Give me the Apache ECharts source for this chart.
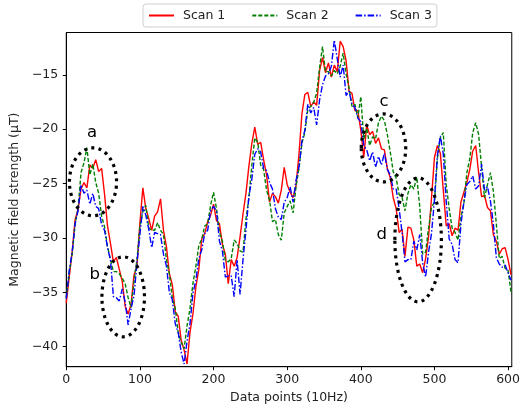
<!DOCTYPE html>
<html>
<head>
<meta charset="utf-8">
<script src="https://cdn.jsdelivr.net/npm/echarts@6.0.0/dist/echarts.min.js"></script>
<style>
  html, body { margin: 0; padding: 0; background: #fff; }
  #chart { width: 523px; height: 410px; }
</style>
</head>
<body>
<div id="chart"></div>
<script>
// three scans, one sample every 4 data points
const seriesNames = ["Scan 1", "Scan 2", "Scan 3"];
const sampleStep = 4;

const scan1 = [
  -36.0, -33.6, -31.3, -28.3, -27.4, -25.5, -24.9, -25.4, -23.3, -23.6,
  -22.8, -23.9, -23.6, -26.0, -28.9, -30.5, -32.2, -31.8, -32.9, -34.0,
  -36.3, -37.0, -36.1, -33.4, -32.6, -28.6, -25.4, -27.3, -28.2, -29.3,
  -28.0, -27.6, -26.4, -29.3, -30.8, -33.3, -34.3, -36.8, -37.2, -39.4,
  -40.3, -41.6, -38.7, -37.0, -34.5, -32.9, -30.1, -29.6, -28.5, -27.9,
  -26.9, -28.4, -28.7, -30.6, -31.5, -34.2, -32.0, -32.6, -31.8, -29.9,
  -27.8, -25.9, -23.4, -21.3, -19.8, -21.4, -21.2, -22.8, -24.2, -26.7,
  -25.9, -26.2, -26.8, -25.6, -23.5, -25.1, -25.8, -26.3, -25.2, -22.3,
  -18.6, -16.8, -16.6, -17.9, -17.5, -17.8, -14.6, -13.4, -14.8, -13.9,
  -15.2, -14.1, -14.7, -11.9, -12.4, -13.7, -16.5, -16.7, -18.3, -18.3,
  -20.1, -22.6, -19.6, -20.5, -20.2, -21.3, -20.8, -21.8, -21.9, -23.6,
  -24.5, -26.3, -27.3, -29.5, -29.2, -31.7, -29.0, -29.1, -30.2, -32.6,
  -32.4, -33.2, -31.9, -29.9, -26.3, -22.6, -21.5, -22.2, -25.6, -28.9,
  -28.7, -29.8, -29.1, -29.3, -26.7, -25.8, -24.9, -23.7, -22.0, -21.5,
  -24.0, -26.2, -26.1, -27.2, -27.5, -29.7, -30.3, -31.5, -31.0, -30.9,
  -32.0, -33.4
];

const scan2 = [
  -35.5, -33.2, -31.5, -28.7, -27.3, -24.0, -23.1, -21.7, -24.2, -23.2,
  -24.9, -25.9, -28.0, -29.0, -30.8, -32.0, -33.1, -33.1, -33.3, -33.7,
  -34.2, -35.5, -36.4, -34.0, -32.0, -28.9, -27.6, -27.0, -29.1, -29.3,
  -29.3, -28.6, -29.3, -29.7, -32.0, -33.3, -35.5, -36.5, -38.7, -39.6,
  -40.2, -38.1, -36.5, -34.2, -32.6, -30.7, -30.1, -28.9, -28.7, -27.0,
  -25.8, -27.3, -29.5, -30.3, -32.1, -32.2, -31.9, -30.2, -30.5, -31.2,
  -31.3, -28.3, -26.3, -23.3, -20.8, -21.2, -23.3, -23.7, -25.6, -26.5,
  -28.5, -28.3, -29.7, -30.2, -27.7, -27.1, -26.6, -27.7, -25.3, -23.6,
  -21.3, -20.3, -18.2, -17.9, -17.5, -16.7, -14.3, -12.4, -14.7, -14.7,
  -15.1, -14.6, -14.9, -14.2, -13.0, -14.9, -16.2, -17.9, -17.7, -18.9,
  -17.0, -20.9, -19.9, -21.5, -20.7, -20.9, -19.4, -18.8, -19.2, -20.5,
  -22.1, -23.9, -24.5, -26.0, -26.3, -27.5, -25.9, -25.1, -25.5, -24.4,
  -27.1, -31.5, -31.3, -29.1, -27.2, -26.7, -22.7, -20.8, -20.3, -25.1,
  -27.3, -29.1, -29.5, -30.2, -28.1, -26.8, -24.0, -22.7, -20.3, -19.4,
  -20.5, -23.5, -26.3, -25.1, -24.0, -25.7, -28.7, -31.9, -31.7, -32.8,
  -33.0, -35.0
];

const scan3 = [
  -35.6, -33.0, -31.3, -28.7, -27.5, -25.1, -25.9, -25.6, -26.9, -25.9,
  -27.1, -27.3, -28.8, -29.3, -30.9, -32.0, -35.4, -35.5, -35.8, -34.7,
  -35.9, -38.0, -36.5, -35.3, -32.3, -29.7, -27.1, -27.9, -29.2, -30.9,
  -29.5, -29.6, -29.7, -31.5, -32.6, -35.0, -35.7, -37.9, -38.7, -40.5,
  -41.6, -39.5, -37.9, -35.1, -33.9, -31.9, -31.1, -29.6, -29.3, -27.5,
  -27.1, -27.5, -30.3, -31.2, -33.6, -33.5, -33.5, -35.4, -32.0, -35.2,
  -32.0, -29.3, -26.2, -24.6, -22.3, -21.8, -22.1, -23.6, -23.8, -24.9,
  -25.5, -27.3, -28.1, -28.3, -26.7, -26.3, -25.3, -26.7, -24.7, -23.5,
  -21.1, -20.1, -17.7, -18.5, -18.0, -19.6, -17.3, -15.9, -15.1, -14.9,
  -14.2, -11.8, -13.5, -15.2, -14.1, -16.9, -16.5, -17.7, -18.0, -19.0,
  -19.3, -21.5, -21.9, -22.9, -22.1, -23.5, -22.5, -23.3, -22.2, -23.7,
  -24.2, -25.5, -25.5, -27.3, -29.5, -32.2, -32.0, -32.0, -30.3, -31.1,
  -29.7, -32.3, -33.6, -31.3, -29.6, -26.5, -22.4, -20.6, -22.3, -26.7,
  -30.1, -30.6, -32.0, -32.3, -28.7, -26.7, -25.1, -24.8, -24.3, -25.5,
  -25.2, -23.2, -25.6, -25.3, -26.6, -28.7, -31.8, -32.4, -32.7, -32.5,
  -33.2, -33.9
];

const xTicks = [0, 100, 200, 300, 400, 500, 600];
const yTicks = [-40, -35, -30, -25, -20, -15];

// dotted ellipses a-d, in data units
const annoLabels = ["a", "b", "c", "d"];
const annoCenterX = [36.3, 77.3, 430.8, 477.8];
const annoCenterY = [-24.84, -35.42, -21.72, -30.18];
const annoRadiusX = [32, 28.9, 30.2, 31.6];
const annoRadiusY = [3.13, 3.68, 3.13, 5.7];
const annoTextX = [34.9, 38.6, 431.5, 428.4];
const annoTextY = [-20.36, -33.4, -17.46, -29.72];

const font = "DejaVu Sans";
const colors = ["#ff0000", "#008000", "#0000ff"];
const dashes = ["solid", [4, 2], [6.5, 2, 1.5, 2]];
const allScans = [scan1, scan2, scan3];

const toPairs = (vals) => vals.map((v, i) => [i * sampleStep, v]);
const minus = (v) => String(v).replace("-", "\u2212");

const chart = echarts.init(document.getElementById("chart"));

chart.setOption({
  animation: false,
  grid: {
    left: 64, right: 9, top: 32.5, bottom: 43.3,
    show: true, borderColor: "#000", borderWidth: 1, backgroundColor: "#fff"
  },
  legend: {
    data: seriesNames,
    left: 143, top: 4,
    itemWidth: 25, itemHeight: 13, itemGap: 26,
    padding: 5,
    borderColor: "#cfcfcf", borderWidth: 1, borderRadius: 3,
    backgroundColor: "#fff",
    itemStyle: { opacity: 0 }, // line only, no marker
    textStyle: { fontFamily: font, fontSize: 12.5, color: "#222", padding: [0, 0, 0, 4] }
  },
  xAxis: {
    type: "value",
    min: 0, max: 605,
    name: "Data points (10Hz)",
    nameLocation: "middle",
    nameGap: 22,
    nameTextStyle: { fontFamily: font, fontSize: 12.5, color: "#222" },
    axisLine: { show: true, lineStyle: { color: "#000", width: 1 } },
    axisTick: { show: true, length: 3.5, customValues: xTicks, lineStyle: { color: "#000" } },
    axisLabel: { customValues: xTicks, margin: 7, fontFamily: font, fontSize: 12.5, color: "#222" },
    splitLine: { show: false }
  },
  yAxis: {
    type: "value",
    min: -41.85, max: -11.1,
    name: "Magnetic field strength (\u03bcT)",
    nameLocation: "middle",
    nameGap: 42,
    nameTextStyle: { fontFamily: font, fontSize: 12.5, color: "#222" },
    axisLine: { show: true, lineStyle: { color: "#000", width: 1 } },
    axisTick: { show: true, length: 3.5, customValues: yTicks, lineStyle: { color: "#000" } },
    axisLabel: { customValues: yTicks, margin: 8, fontFamily: font, fontSize: 12.5, color: "#222", formatter: minus },
    splitLine: { show: false }
  },
  series: allScans.map((vals, k) => ({
    name: seriesNames[k],
    type: "line",
    data: toPairs(vals),
    symbol: "none",
    color: colors[k],
    lineStyle: { color: colors[k], width: 1.4, type: dashes[k] },
    z: 2 + k
  }))
});

// annotations go on after the axes exist so they can follow the data scale
const toPx = (x, y) => chart.convertToPixel({ gridIndex: 0 }, [x, y]);
const graphics = [];
annoLabels.forEach((lab, i) => {
  const c = toPx(annoCenterX[i], annoCenterY[i]);
  const e = toPx(annoCenterX[i] + annoRadiusX[i], annoCenterY[i] + annoRadiusY[i]);
  graphics.push({
    type: "ellipse",
    shape: { cx: c[0], cy: c[1], rx: e[0] - c[0], ry: c[1] - e[1] },
    style: { fill: "none", stroke: "#000", lineWidth: 3.2, lineDash: [3, 4.3] },
    z: 100
  });
  const t = toPx(annoTextX[i], annoTextY[i]);
  graphics.push({
    type: "text",
    x: t[0], y: t[1],
    style: {
      text: lab, fill: "#000", font: "16.5px " + font,
      align: "center", verticalAlign: "middle",
      textAlign: "center", textVerticalAlign: "middle"
    },
    z: 100
  });
});
chart.setOption({ graphic: graphics });
</script>
</body>
</html>
